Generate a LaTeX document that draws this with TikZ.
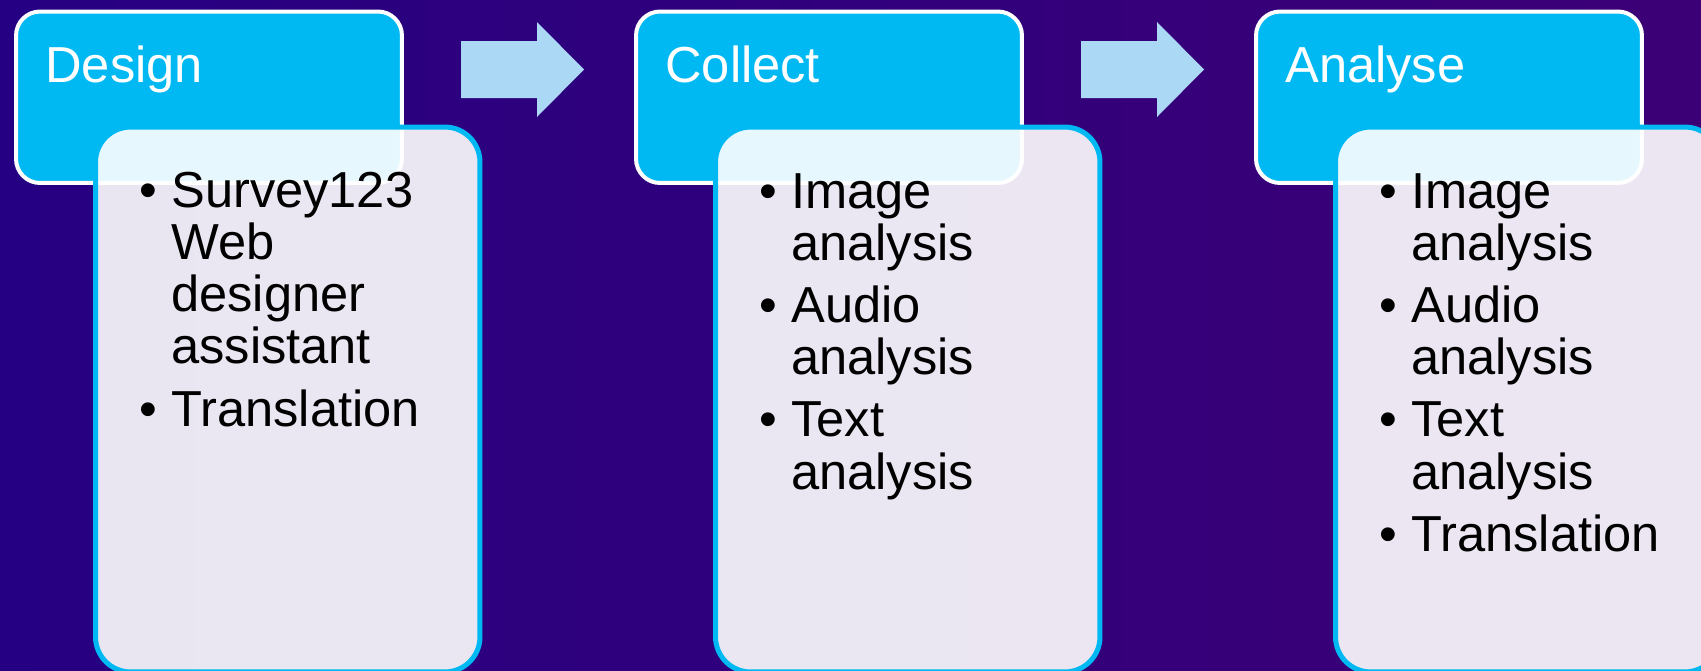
\documentclass[tikz,border=0pt]{standalone}
\usepackage{fontspec}
\setmainfont{Liberation Sans}
\definecolor{bgleft}{RGB}{38,0,130}
\definecolor{bgright}{RGB}{60,0,118}
\definecolor{headcyan}{RGB}{0,185,242}
\definecolor{arrowblue}{RGB}{170,216,245}
\newcommand{\itembullet}{\makebox[0.64cm][l]{\textbullet}}
\begin{document}
\begin{tikzpicture}[x=0.02cm, y=-0.02cm, font=\fontsize{28.8}{29.6}\selectfont, line join=round,
	headbox/.style={draw=white, line width=0.08cm, fill=headcyan, rounded corners=0.48cm, minimum width=7.72cm, minimum height=3.43cm, inner sep=0},
	itembox/.style={draw=headcyan, line width=0.1cm, fill=white, fill opacity=0.9, draw opacity=1, rounded corners=0.7cm, minimum width=7.69cm, minimum height=10.9cm, inner sep=0},
	headtext/.style={anchor=base west, inner sep=0, text=white},
	itemtext/.style={anchor=base west, inner sep=0, text=black},
	arrowshape/.style={fill=arrowblue}]
	\useasboundingbox (0,0) rectangle (1701,670);
	\clip (0,0) rectangle (1701,670);
	\shade[left color=bgleft, right color=bgright] (0,0) rectangle (1701,670);
	% arrows
	\fill[arrowshape] (461,41)--(537,41)--(537,22)--(584,69.5)--(537,117)--(537,98)--(461,98)--cycle;
	\fill[arrowshape, shift={(620,0)}] (461,41)--(537,41)--(537,22)--(584,69.5)--(537,117)--(537,98)--(461,98)--cycle;
	% headers
	\node[headbox] (design) at (209,97.25) {};
	\node[headbox] (collect) at (829,97.25) {};
	\node[headbox] (analyse) at (1449,97.25) {};
	\node[headtext] (designtitle) at (45,82) {Design};
	\node[headtext] (collecttitle) at (665,82) {Collect};
	\node[headtext] (analysetitle) at (1285,82) {Analyse};
	% lists
	\node[itembox] (designlist) at (287.75,399.5) {};
	\node[itembox] (collectlist) at (907.75,399.5) {};
	\node[itembox] (analyselist) at (1527.75,399.5) {};
	\node[itemtext] (designitems) at (139,207) {\begin{tabular}[t]{@{}l@{}l@{}}
		\itembullet & Survey123\\
		 & Web\\
		 & designer\\
		 & assistant\\[0.2cm]
		\itembullet & Translation
	\end{tabular}};
	\node[itemtext] (collectitems) at (759,208) {\begin{tabular}[t]{@{}l@{}l@{}}
		\itembullet & Image\\
		 & analysis\\[0.2cm]
		\itembullet & Audio\\
		 & analysis\\[0.2cm]
		\itembullet & Text\\
		 & analysis
	\end{tabular}};
	\node[itemtext] (analyseitems) at (1379,208) {\begin{tabular}[t]{@{}l@{}l@{}}
		\itembullet & Image\\
		 & analysis\\[0.2cm]
		\itembullet & Audio\\
		 & analysis\\[0.2cm]
		\itembullet & Text\\
		 & analysis\\[0.2cm]
		\itembullet & Translation
	\end{tabular}};
\end{tikzpicture}
\end{document}
